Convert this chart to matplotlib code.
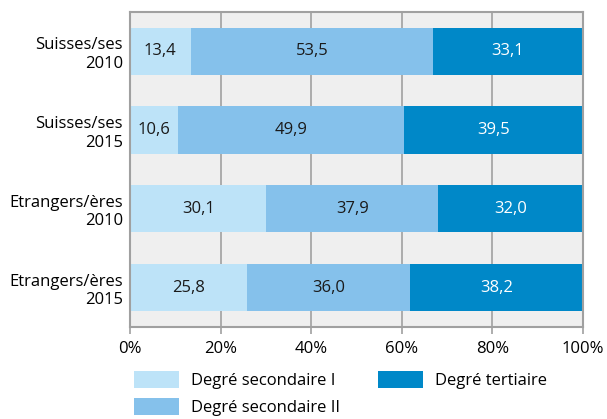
import numpy as np
import matplotlib.pyplot as plt

plt.rcParams['font.family'] = ['Open Sans', 'DejaVu Sans']

groups = ['Suisses/ses\n2010', 'Suisses/ses\n2015', 'Etrangers/ères\n2010', 'Etrangers/ères\n2015']
sec1 = [13.4, 10.6, 30.1, 25.8]
sec2 = [53.5, 49.9, 37.9, 36.0]
tert = [33.1, 39.5, 32.0, 38.2]
series = ['Degré secondaire I', 'Degré secondaire II', 'Degré tertiaire']
colors = ['#bde3f8', '#85c1eb', '#0088c8']
text_colors = ['#1a1a1a', '#1a1a1a', 'white']

fig = plt.figure(figsize=(6.07, 4.19), dpi=100)
ax = fig.add_axes([130 / 607, 1 - 327 / 419, 453 / 607, 315 / 419])
ax.set_facecolor('#efefef')

y = np.arange(len(groups))
left = np.zeros(len(groups))
bars = []
for vals, col, tc in zip([sec1, sec2, tert], colors, text_colors):
    b = ax.barh(y, vals, left=left, height=0.6, color=col, zorder=2)
    bars.append(b)
    for yi, l, v in zip(y, left, vals):
        ax.text(l + v / 2, yi, f'{v:.1f}'.replace('.', ','), ha='center', va='center',
                color=tc, fontsize=12, zorder=3)
    left = left + np.array(vals)

ax.set_xlim(0, 100)
ax.set_ylim(3.5, -0.5)
ax.set_yticks(y)
ax.set_yticklabels(groups, fontsize=12, linespacing=1.2, ha='right')
ax.set_xticks(np.arange(0, 101, 20))
ax.set_xticklabels([f'{v}%' for v in range(0, 101, 20)], fontsize=12)
ax.tick_params(axis='y', length=0, pad=5)
ax.tick_params(axis='x', length=5, width=1.2, color='#a0a0a0', pad=5)
ax.grid(axis='x', color='#a0a0a0', linewidth=1.2, zorder=1)
ax.set_axisbelow(True)
for s in ax.spines.values():
    s.set_color('#a0a0a0')
    s.set_linewidth(1.5)

fig.legend(bars, series, loc='upper left', bbox_to_anchor=(134 / 607, 1 - 371 / 419),
           ncol=2, frameon=False, fontsize=12, handlelength=2.7, handleheight=1.2,
           handletextpad=0.7, labelspacing=0.5, columnspacing=2.3, borderpad=0,
           borderaxespad=0)

fig.savefig('out.png', dpi=100)
